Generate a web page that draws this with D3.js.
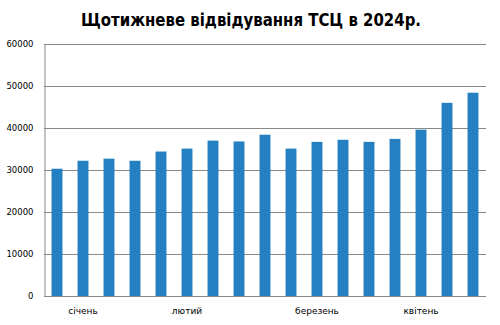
<!DOCTYPE html>
<html><head><meta charset="utf-8">
<script src="https://cdn.jsdelivr.net/npm/d3@7"></script>
<style>body{margin:0;background:#fff}svg{display:block}</style>
</head><body>
<script>
const weeks = d3.range(1, 18).map(i => "т" + i);
const visits = [30300, 32200, 32700, 32200, 34400, 35100, 37000, 36800, 38400, 35100, 36700, 37200, 36700, 37400, 39600, 46000, 48400];
const monthLabels = ["", "січень", "", "", "", "лютий", "", "", "", "", "березень", "", "", "", "квітень", "", ""];
const yTicks = [0, 10000, 20000, 30000, 40000, 50000, 60000];
const title = "Щотижневе відвідування ТСЦ в 2024р.";

const W = 500, H = 325;
const m = {l: 44, r: 14, t: 44, b: 29};
const svg = d3.select("body").append("svg").attr("width", W).attr("height", H);

const x = d3.scaleBand().domain(weeks).range([m.l, W - m.r]).paddingInner(0.58).paddingOuter(0.29);
const y = d3.scaleLinear().domain([0, 60000]).range([H - m.b, m.t]);

// gridlines
svg.append("g").selectAll("line").data(yTicks).join("line")
  .attr("x1", m.l).attr("x2", W - m.r)
  .attr("y1", d => Math.round(y(d)) + 0.5).attr("y2", d => Math.round(y(d)) + 0.5)
  .attr("stroke", "#898989").attr("stroke-width", 1);

// y axis
const ya = svg.append("g").attr("transform", `translate(${m.l + 0.5},0)`)
  .call(d3.axisLeft(y).tickValues(yTicks).tickSize(0).tickPadding(11).tickFormat(d3.format("d")));
ya.select(".domain").attr("stroke", "#898989");
ya.selectAll("text").attr("font-family", "DejaVu Sans").attr("font-size", "8.5px").attr("fill", "#000");

// bars
svg.append("g").selectAll("rect").data(visits).join("rect")
  .attr("x", (d, i) => x(weeks[i])).attr("width", x.bandwidth())
  .attr("y", d => y(d)).attr("height", d => y(0) - y(d))
  .attr("fill", "#2480c1");

// x axis
const xa = svg.append("g").attr("transform", `translate(0,${H - m.b})`)
  .call(d3.axisBottom(x).tickSize(0).tickPadding(12).tickFormat((d, i) => monthLabels[i]));
xa.select(".domain").remove();
xa.selectAll("text").attr("font-family", "DejaVu Sans").attr("font-size", "9px").attr("fill", "#000");

svg.append("text").attr("x", 251).attr("y", 26).attr("text-anchor", "middle")
  .attr("font-family", "DejaVu Sans").attr("font-weight", "bold").attr("font-size", "17px")
  .attr("textLength", 340).attr("lengthAdjust", "spacingAndGlyphs")
  .text(title);
</script>
</body></html>
